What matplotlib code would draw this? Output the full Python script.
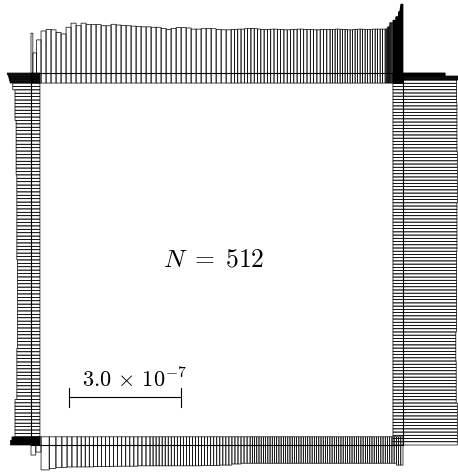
import numpy as np
import matplotlib
matplotlib.use('Agg')
import matplotlib.pyplot as plt

plt.rcParams['mathtext.fontset'] = 'cm'

SIDE = 1000.0     # square edge, nm
SCALE = 300.0     # scale bar, nm (3.0e-7 m)
N = 512

# boundary mesh on each side: (end of run in nm, elements in run)
TOP_RUNS = [(5, 1), (15, 1), (27, 1), (538, 38), (804, 30), (952, 22), (973, 7), (1000, 28)]
RIGHT_RUNS = [(981, 113), (992, 5), (1000, 10)]
LEFT_RUNS = [(22, 12), (973, 104), (1000, 12)]
BOTTOM_RUNS = [(13, 1), (27, 1), (49, 1), (67, 1), (83, 1), (97, 1), (110, 1), (124, 1),
               (320, 18), (589, 33), (1000, 69)]

# values per element (nm), top: left->right, right/left: bottom->top, bottom: left->right
TOP_H = [107, 54, 89,
         113, 117, 116, 109, 105, 123, 134, 127, 134, 130,
         130, 130, 127, 127, 131, 129, 128, 127, 126, 125,
         124, 124, 123, 123, 120, 117, 120, 122, 122, 121,
         118, 118, 119, 120, 119, 117, 116, 116,
         117, 117, 118, 118, 119, 120, 120, 119, 118, 117,
         117, 117, 118, 118, 117, 117, 116, 116, 117, 117,
         118, 118, 117, 117, 117, 116, 116, 117, 117, 117,
         117, 117, 118, 118, 117, 117, 117, 116, 116, 117,
         117, 118, 118, 117, 117, 117, 117, 118, 118, 118,
         118, 118,
         118, 119, 124, 124, 135, 135, 135,
         142, 142, 142, 142, 142, 142, 142, 142,
         151, 151, 151, 151, 151, 151, 151,
         164, 164, 164, 164,
         168, 175, 180, 185, 185, 185, 185, 185, 185]

RIGHT_H = [146, 146, 146, 146, 146, 146, 146, 146, 146, 146, 146, 146, 146,
           143, 143, 143, 143, 143, 143, 143, 143, 143, 143, 143, 143, 143,
           142, 142, 142, 142, 142, 142, 142, 142, 142,
           144, 144, 144, 144, 144, 144, 144, 144, 144, 144, 144, 144, 144,
           144, 144, 144, 144, 144, 144, 144, 144, 144, 144, 144, 144,
           145, 145, 145, 145, 145, 145, 145, 145, 145, 145, 145, 145, 145, 145, 145,
           146, 146, 146, 146, 146, 146, 146, 146, 146, 146, 146, 146, 146, 146, 146, 146,
           145, 145, 145, 145, 145, 145, 145, 145, 145, 145, 145, 145, 145, 145, 145,
           144, 144, 144, 144, 144, 144, 144,
           147, 147, 148, 148, 148,
           113, 113, 113, 113, 113, 113, 113, 113, 113, 113]

LEFT_H = [55, 55, 55, 55, 55, 55, 55,
          51, 51, 51, 51, 51,
          43, 43, 43, 43, 43, 43, 43, 43, 43, 43, 43,
          38, 38, 38, 38, 38, 38, 38, 38, 38, 38, 38, 38, 38, 38, 38,
          36, 36, 36, 36, 36, 36, 36, 36, 36, 36, 36, 36, 36,
          36, 36, 36, 36, 36, 36, 36, 36, 36, 36, 36, 36, 36,
          38, 38, 38, 38, 38, 38, 38, 38, 38, 38, 38, 38, 38,
          38, 38, 38, 38, 38, 38, 38, 38, 38, 38, 38, 38,
          40, 40, 40, 40, 40, 40, 40, 40, 40, 40, 40, 40, 40, 40, 40, 40,
          43, 43, 43, 43, 43, 43, 43, 43, 43,
          49, 49,
          56, 56, 57, 58, 58, 59, 59, 60, 61, 62, 63, 64]

BOTTOM_H = [27, 19, 67, 63, 60, 60, 59, 59,
            59, 59, 59, 59, 58, 58, 58, 58, 58, 57, 57, 57, 57, 57, 57, 56, 56, 56,
            56, 56, 56, 56, 56, 56, 56, 56, 56, 56,
            56, 56, 56, 56, 56, 56, 56,
            55, 55, 55, 55, 55, 55,
            54, 54, 54, 54,
            51, 51, 51,
            49, 49, 49,
            49, 49, 49, 49, 49, 49, 49, 49, 49, 49, 49,
            49, 49, 49, 49, 49, 49, 49, 49, 49, 49, 49,
            49, 49, 49, 49, 49, 49, 49, 49, 49, 49, 49,
            49, 49, 49, 49, 49, 49, 49, 49, 49, 49, 49,
            49, 49, 49, 49, 49, 49, 49, 49, 49, 49, 49,
            49, 49, 49, 49, 49, 49, 49, 49, 49, 49, 49,
            54, 54, 54]


def mesh(runs):
    edges = [0.0]
    for end, n in runs:
        edges.extend(np.linspace(edges[-1], end, n + 1)[1:])
    edges = np.array(edges)
    return edges[:-1], np.diff(edges)


PX = 0.372  # pixels per nm
fig = plt.figure(figsize=(4.58, 4.75), dpi=100)
ax = fig.add_axes([0, 0, 1, 1])
ax.set_xlim(-31 / PX, (458 - 31) / PX)
ax.set_ylim(-(475 - 445) / PX, 445 / PX)
ax.axis('off')

style = dict(align='edge', fill=False, edgecolor='black', linewidth=0.5, snap=False)

# bars start a little inside the square and point outward
x, w = mesh(TOP_RUNS)
h = np.array(TOP_H)
ax.bar(x, h + 27, width=w, bottom=SIDE - 27, **style)

x, w = mesh(BOTTOM_RUNS)
h = np.array(BOTTOM_H)
ax.bar(x, -(h + 22), width=w, bottom=22, **style)

y, w = mesh(LEFT_RUNS)
h = np.array(LEFT_H)
ax.barh(y, -(h + 24), height=w, left=24, **style)

y, w = mesh(RIGHT_RUNS)
h = np.array(RIGHT_H)
ax.barh(y, h + 27, height=w, left=SIDE - 27, **style)

ax.plot([0, SIDE, SIDE, 0, 0], [0, 0, SIDE, SIDE, 0], color='black', lw=0.8)

# scale bar
x0, yb = 102, 128
ax.plot([x0, x0 + SCALE], [yb, yb], color='black', lw=0.8)
ax.plot([x0, x0], [yb - 25, yb + 25], color='black', lw=0.8)
ax.plot([x0 + SCALE, x0 + SCALE], [yb - 25, yb + 25], color='black', lw=0.8)
ax.text(137, 154, r'$3.0\,\times\,10^{-7}$', ha='left', va='baseline', fontsize=16)

ax.text(492, 499, r'$N\;=\;%d$' % N, ha='center', va='center', fontsize=18.5)

fig.savefig('out.png', dpi=100)
